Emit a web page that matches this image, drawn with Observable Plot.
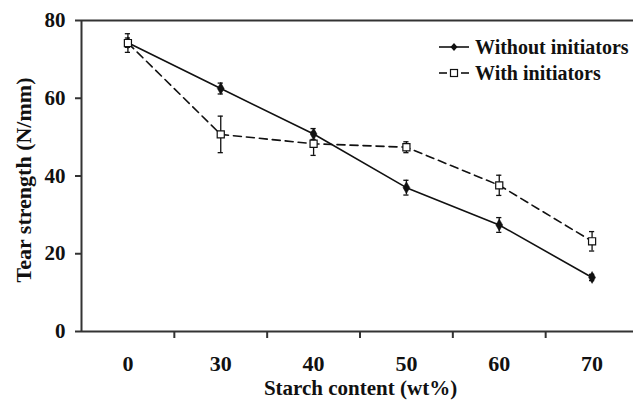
<!DOCTYPE html>
<html>
<head>
<meta charset="utf-8">
<script src="https://cdn.jsdelivr.net/npm/d3@7"></script>
<script src="https://cdn.jsdelivr.net/npm/@observablehq/plot@0.6"></script>
<style>
  html, body { margin: 0; padding: 0; background: #fff; }
  #wrap { position: relative; width: 633px; height: 400px; overflow: hidden; font-family: "Liberation Serif", "Times New Roman", serif; font-weight: bold; }
  #legend { position: absolute; left: 438px; top: 34px; font-size: 20px; color: #111; }
  #legend .row { display: flex; align-items: center; height: 26px; white-space: nowrap; }
  #legend svg { margin-right: 5px; }
</style>
</head>
<body>
<div id="wrap"></div>
<script>
const categories = ["0", "30", "40", "50", "60", "70"];
const withoutVals = [74.3, 62.5, 50.8, 37.0, 27.4, 13.9];
const withoutErr  = [1.2, 1.4, 1.4, 1.9, 1.9, 0.8];
const withVals    = [74.2, 50.7, 48.3, 47.4, 37.6, 23.2];
const withErr     = [2.4, 4.7, 3.0, 1.4, 2.6, 2.5];
const yTicks = [0, 20, 40, 60, 80];
const seriesNames = ["Without initiators", "With initiators"];
const xLabel = "Starch content (wt%)";
const yLabel = "Tear strength (N/mm)";

const idx = categories.map((_, i) => i);
const rowsWithout = idx.map(i => ({i, v: withoutVals[i], e: withoutErr[i]}));
const rowsWith = idx.map(i => ({i, v: withVals[i], e: withErr[i]}));
const boundaries = idx.slice(1).map(i => i - 0.5);
const capW = 0.028;
const ink = "#111";

function errMarks(rows) {
  return [
    Plot.ruleX(rows, {x: "i", y1: d => d.v - d.e, y2: d => d.v + d.e, stroke: ink, strokeWidth: 1.3}),
    Plot.ruleY(rows, {y: d => d.v - d.e, x1: d => d.i - capW, x2: d => d.i + capW, stroke: ink, strokeWidth: 1.3}),
    Plot.ruleY(rows, {y: d => d.v + d.e, x1: d => d.i - capW, x2: d => d.i + capW, stroke: ink, strokeWidth: 1.3})
  ];
}

const chart = Plot.plot({
  width: 633,
  height: 400,
  marginLeft: 81,
  marginRight: 0,
  marginTop: 20,
  marginBottom: 69,
  style: {fontFamily: '"Liberation Serif", "Times New Roman", serif', fontWeight: "bold", fontSize: "22px", color: ink, background: "#fff"},
  x: {domain: [-0.5, categories.length - 0.5], range: [81, 638]},
  y: {domain: [0, 80]},
  marks: [
    Plot.ruleY([0, 80], {stroke: "#333", strokeWidth: 2}),
    Plot.ruleX([-0.5], {y1: 0, y2: 80, stroke: "#333", strokeWidth: 2}),
    Plot.axisY(yTicks, {tickSize: 6, tickPadding: 10, stroke: "#333", strokeWidth: 2, fontSize: 21, fontWeight: "bold", label: null}),
    Plot.axisX(boundaries, {tickSize: 7, tickFormat: () => "", stroke: "#333", strokeWidth: 2, label: null}),
    Plot.axisX(idx, {tickSize: 0, tickPadding: 24, tickFormat: i => categories[i], fontSize: 22, fontWeight: "bold", label: null}),
    Plot.text([yLabel], {frameAnchor: "left", textAnchor: "middle", lineAnchor: "middle", rotate: -90, dx: -58, dy: 4, fontSize: 22, fontWeight: "bold", fill: ink}),
    Plot.text([xLabel], {frameAnchor: "bottom", textAnchor: "middle", lineAnchor: "middle", dy: 57, dx: 3, fontSize: 21, fontWeight: "bold", fill: ink}),
    ...errMarks(rowsWith),
    ...errMarks(rowsWithout),
    Plot.line(rowsWith, {x: "i", y: "v", stroke: ink, strokeWidth: 1.6, strokeDasharray: "8,5"}),
    Plot.line(rowsWithout, {x: "i", y: "v", stroke: ink, strokeWidth: 1.6}),
    Plot.dot(rowsWithout, {x: "i", y: "v", symbol: "diamond", r: 3.6, fill: ink, stroke: ink, strokeWidth: 0.5}),
    Plot.dot(rowsWith, {x: "i", y: "v", symbol: "square", r: 4, fill: "#fff", stroke: ink, strokeWidth: 1.2})
  ]
});

const wrap = document.getElementById("wrap");
wrap.appendChild(chart);

const legend = document.createElement("div");
legend.id = "legend";
legend.innerHTML = `
  <div class="row"><svg width="32" height="12"><line x1="1" y1="6" x2="31" y2="6" stroke="${ink}" stroke-width="1.6"/><path d="M16,2 L19.5,6 L16,10 L12.5,6 Z" fill="${ink}"/></svg><span>${seriesNames[0]}</span></div>
  <div class="row"><svg width="32" height="12"><line x1="1" y1="6" x2="9" y2="6" stroke="${ink}" stroke-width="1.6"/><line x1="23" y1="6" x2="31" y2="6" stroke="${ink}" stroke-width="1.6"/><rect x="12.5" y="2.5" width="7" height="7" fill="#fff" stroke="${ink}" stroke-width="1.2"/></svg><span>${seriesNames[1]}</span></div>`;
wrap.appendChild(legend);
</script>
</body>
</html>
